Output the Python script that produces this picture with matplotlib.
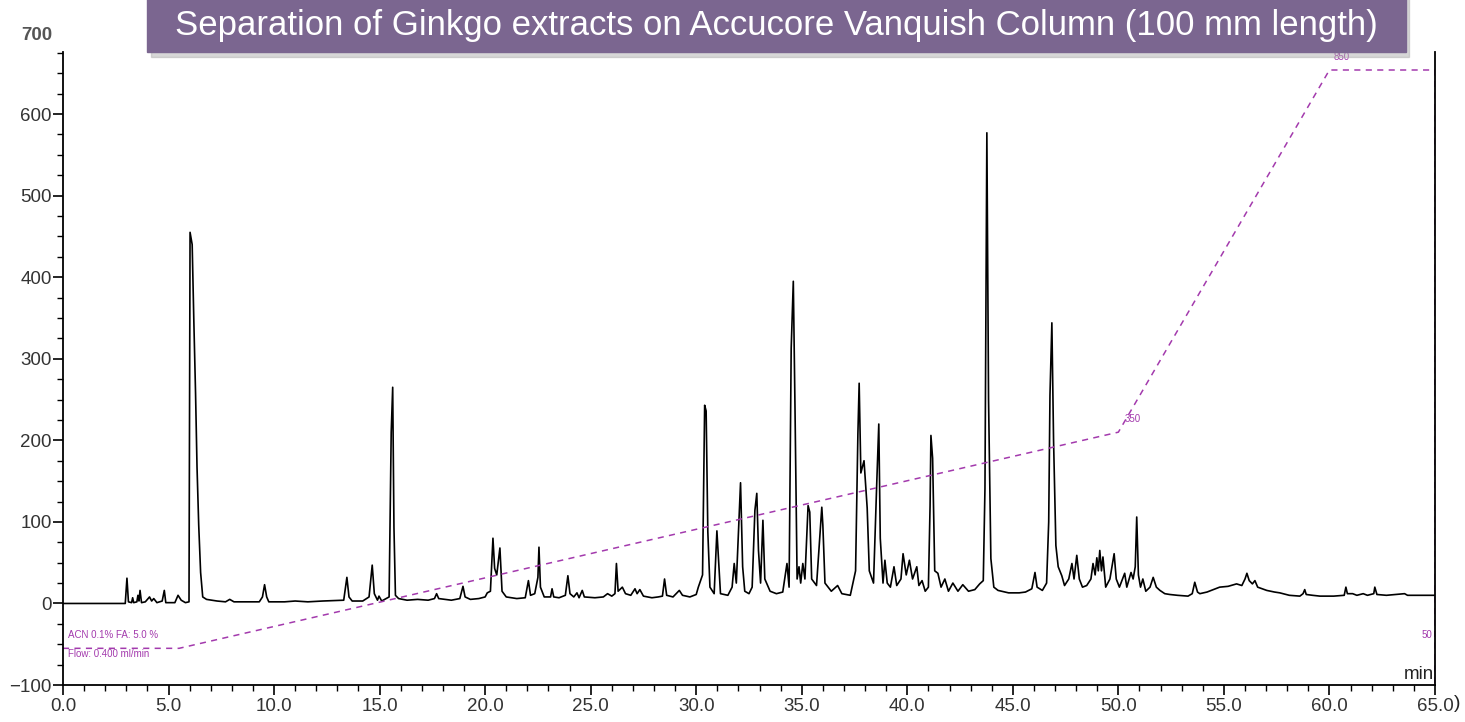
import matplotlib.pyplot as plt
from matplotlib.patches import Rectangle
from matplotlib.ticker import MultipleLocator, FormatStrFormatter

plt.rcParams["font.family"] = ["Liberation Sans", "DejaVu Sans"]

TITLE = "Separation of Ginkgo extracts on Accucore Vanquish Column (100 mm length)"

# chromatogram trace (retention time in min, signal)
TRACE_TIME = [
    0.0, 2.95, 3.03, 3.1, 3.25, 3.3, 3.35, 3.5, 3.55, 3.6, 3.65, 3.72, 3.9, 4.1, 4.2, 4.3,
    4.45, 4.7, 4.8, 4.87, 5.3, 5.45, 5.6, 5.8, 5.97, 6.02, 6.12, 6.2, 6.28, 6.35, 6.43, 6.52,
    6.62, 6.8, 7.3, 7.7, 7.9, 8.1, 8.6, 9.3, 9.45, 9.55, 9.65, 9.75, 10.5, 11.0, 11.6, 12.3,
    13.3, 13.45, 13.55, 13.7, 14.2, 14.5, 14.65, 14.75, 14.9, 14.97, 15.1, 15.45, 15.55, 15.62,
    15.68, 15.75, 15.9, 16.3, 16.8, 17.3, 17.6, 17.7, 17.8, 18.1, 18.4, 18.8, 18.95, 19.05,
    19.3, 19.7, 20.0, 20.1, 20.25, 20.37, 20.45, 20.55, 20.7, 20.8, 21.0, 21.5, 21.9, 22.05,
    22.15, 22.35, 22.5, 22.55, 22.62, 22.8, 23.1, 23.17, 23.25, 23.5, 23.8, 23.92, 24.02, 24.2,
    24.35, 24.45, 24.6, 24.7, 25.2, 25.6, 25.8, 26.0,
    26.15, 26.22, 26.3, 26.5, 26.65, 26.9, 27.1, 27.2, 27.33, 27.5, 27.9, 28.2, 28.4, 28.5,
    28.6, 28.9, 29.2, 29.35, 29.7, 30.0, 30.1, 30.3, 30.4, 30.47, 30.55, 30.65, 30.85, 30.98,
    31.07, 31.15, 31.5, 31.7, 31.8, 31.9, 32.1, 32.2, 32.3, 32.5, 32.65, 32.78, 32.87, 32.95,
    33.05, 33.16, 33.25, 33.5, 33.8, 34.1, 34.3, 34.4, 34.5, 34.6, 34.68, 34.78, 34.87, 34.95,
    35.05, 35.15, 35.3, 35.38, 35.47, 35.7, 35.95, 36.0, 36.1, 36.4, 36.7, 36.9, 37.3, 37.55,
    37.66, 37.72, 37.8, 37.95, 38.1, 38.2, 38.4, 38.55, 38.65, 38.72, 38.85, 38.94, 39.05, 39.2,
    39.37, 39.5, 39.7, 39.8, 39.95, 40.1, 40.25, 40.45, 40.55, 40.7, 40.85, 41.0, 41.08, 41.12,
    41.2, 41.3, 41.45, 41.6, 41.78, 41.95, 42.16, 42.4, 42.63, 42.9, 43.2, 43.43, 43.6, 43.68,
    43.77, 43.85, 43.96, 44.1,
    44.3, 44.8, 45.3, 45.6, 45.9, 46.05, 46.15, 46.4, 46.6, 46.7, 46.76, 46.85, 46.93, 47.04,
    47.15, 47.32, 47.45, 47.65, 47.8, 47.9, 48.03, 48.15, 48.3, 48.5, 48.7, 48.8, 48.9, 48.98,
    49.05, 49.12, 49.2, 49.27, 49.4, 49.6, 49.8, 49.9, 50.05, 50.3, 50.4, 50.6, 50.7, 50.8,
    50.87, 50.95, 51.05, 51.16, 51.3, 51.5, 51.65, 51.8, 51.97, 52.2, 52.44, 52.8, 53.3, 53.5,
    53.62, 53.75, 53.86, 54.2, 54.6, 54.8, 55.2, 55.6, 55.85, 56.0, 56.09, 56.2, 56.35, 56.47,
    56.6, 57.03, 57.4, 57.65, 58.1, 58.6, 58.75, 58.83, 58.9, 59.2, 59.55, 60.2, 60.7, 60.78,
    60.85, 61.1, 61.3, 61.6, 61.8, 62.1, 62.15, 62.25, 62.7, 63.56, 63.7, 65.0,
]
TRACE_SIGNAL = [
    0, 0, 31, 2, 1, 7, 1, 2, 10, 3, 16, 1, 2, 8, 3, 6,
    1, 3, 16, 1, 1, 10, 4, 1, 2, 455, 440, 345, 258, 167, 96, 38,
    8, 5, 3, 2, 5, 2, 2, 2, 8, 23, 8, 2, 2, 3, 2, 3,
    4, 32, 8, 3, 3, 8, 47, 12, 4, 9, 3, 8, 210, 265,
    93, 10, 6, 4, 5, 4, 6, 12, 6, 5, 4, 6, 21, 8,
    5, 6, 8, 13, 15, 80, 43, 35, 68, 15, 8, 6, 7, 28,
    10, 12, 32, 69, 20, 8, 8, 18, 8, 7, 10, 34, 12, 8,
    13, 7, 16, 8, 7, 8, 12, 9,
    12, 49, 15, 20, 12, 10, 18, 12, 17, 9, 7, 8, 9, 30,
    10, 8, 16, 10, 8, 11, 20, 35, 243, 236, 88, 20, 12, 89,
    47, 12, 10, 20, 49, 25, 148, 45, 15, 12, 20, 114, 135, 65,
    25, 102, 30, 15, 12, 14, 49, 20, 313, 395, 240, 30, 45, 25,
    49, 30, 120, 112, 30, 22, 118, 96, 25, 15, 22, 12, 10, 40,
    208, 270, 160, 175, 117, 40, 25, 145, 220, 80, 25, 53, 25, 20,
    45, 22, 30, 61, 35, 53, 30, 45, 22, 28, 15, 20, 120, 206,
    178, 40, 37, 20, 30, 15, 25, 15, 23, 15, 17, 24, 28, 141,
    577, 250, 55, 20,
    16, 13, 13, 14, 18, 38, 20, 16, 25, 100, 255, 344, 200, 71,
    45, 34, 22, 30, 49, 30, 59, 30, 20, 22, 30, 49, 35, 56,
    40, 65, 40, 57, 20, 30, 61, 30, 20, 37, 20, 38, 30, 45,
    106, 35, 20, 30, 15, 20, 32, 20, 16, 12, 11, 10, 9, 12,
    26, 14, 12, 14, 18, 20, 21, 24, 22, 30, 37, 28, 24, 28,
    20, 16, 14, 13, 10, 9, 12, 17, 11, 10, 9, 9, 10, 20,
    12, 12, 10, 12, 10, 12, 20, 11, 10, 12, 10, 10,
]

# %B gradient profile drawn as the dashed purple line
GRADIENT_TIME = [0.0, 5.5, 50.0, 60.0, 65.0, 65.0]
GRADIENT_VALUE = [-55, -55, 210, 654, 654, -100]

X_MAX = 65.0
Y_MIN, Y_MAX = -100, 676

GRADIENT_COLOR = "#a33aad"


def make_chart(output_path="out.png"):
    fig = plt.figure(figsize=(14.65, 7.22), dpi=100)
    ax = fig.add_axes([0.043, 0.0512, 0.9365, 0.8767])

    ax.plot(TRACE_TIME, TRACE_SIGNAL, color="black", lw=1.2)
    ax.plot(GRADIENT_TIME, GRADIENT_VALUE, color=GRADIENT_COLOR, lw=1.1,
            linestyle=(0, (4, 3.5)))

    ax.set_xlim(0, X_MAX)
    ax.set_ylim(Y_MIN, Y_MAX)

    ax.xaxis.set_major_locator(MultipleLocator(5))
    ax.xaxis.set_minor_locator(MultipleLocator(1))
    ax.xaxis.set_major_formatter(FormatStrFormatter("%.1f"))
    ax.set_yticks(range(-100, 700, 100))
    ax.yaxis.set_minor_locator(MultipleLocator(25))

    ax.tick_params(axis="both", which="major", direction="out", length=7,
                   width=1.2, color="black", labelsize=13.5, labelcolor="#333333")
    ax.tick_params(axis="both", which="minor", direction="out", length=4,
                   width=1.0, color="black")
    ax.tick_params(axis="x", pad=2)
    ax.tick_params(axis="y", pad=1)

    ax.spines["top"].set_visible(False)
    for side in ["left", "bottom", "right"]:
        ax.spines[side].set_linewidth(1.3)
        ax.spines[side].set_color("black")

    # annotations from the instrument software
    small = dict(color=GRADIENT_COLOR, fontsize=7)
    ax.text(0.25, -39, "ACN 0.1% FA: 5.0 %", ha="left", va="center", **small)
    ax.text(0.25, -62, "Flow: 0.400 ml/min", ha="left", va="center", **small)
    ax.text(50.3, 226, "350", ha="left", va="center", **small)
    ax.text(60.2, 670, "850", ha="left", va="center", **small)
    ax.text(64.85, -39, "50", ha="right", va="center", **small)
    ax.text(64.95, -87, "min", ha="right", va="center", fontsize=13.5,
            color="#222222")

    fig.text(0.025, 0.951, "700", ha="center", va="center", fontsize=13.5,
             fontweight="bold", color="#555555")
    fig.text(0.9945, 0.025, ")", ha="center", va="center", fontsize=14,
             color="#222222")

    # title banner with a soft shadow
    fig.patches.append(Rectangle((0.103, 0.921), 0.859, 0.083,
                                 transform=fig.transFigure, color="#a8a8a8",
                                 alpha=0.45, zorder=1))
    fig.patches.append(Rectangle((0.1003, 0.928), 0.8593, 0.08,
                                 transform=fig.transFigure, color="#7b6690",
                                 zorder=2))
    fig.text(0.530, 0.964, TITLE, ha="center", va="center", fontsize=25,
             color="white", zorder=3)

    fig.savefig(output_path, dpi=100)
    plt.close(fig)
    return output_path


if __name__ == "__main__":
    make_chart()
